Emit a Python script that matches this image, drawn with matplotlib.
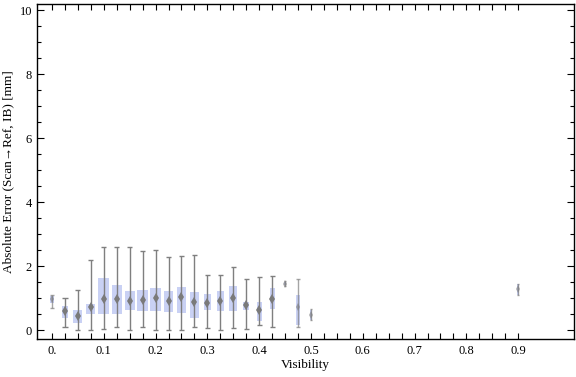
import numpy as np
import matplotlib
matplotlib.use("Agg")
import matplotlib.pyplot as plt
from matplotlib.ticker import MultipleLocator

# box-whisker summary per visibility bin
visibility = [0.0, 0.025, 0.05, 0.075, 0.1, 0.125, 0.15, 0.175, 0.2, 0.225, 0.25,
              0.275, 0.3, 0.325, 0.35, 0.375, 0.4, 0.425, 0.45, 0.475, 0.5, 0.9]
whisker_lo = [0.68, 0.08, 0.0, 0.0, 0.03, 0.08, 0.0, 0.08, 0.0, 0.0, 0.0,
              0.08, 0.05, 0.0, 0.05, 0.02, 0.15, 0.11, 1.37, 0.09, 0.30, 1.10]
q1 = [0.85, 0.39, 0.23, 0.51, 0.51, 0.51, 0.64, 0.60, 0.60, 0.57, 0.54,
      0.39, 0.64, 0.60, 0.60, 0.64, 0.29, 0.67, 1.40, 0.16, 0.31, 1.10]
median = [0.96, 0.58, 0.44, 0.72, 0.96, 0.96, 0.91, 0.94, 1.01, 0.92, 1.03,
          0.88, 0.85, 0.92, 0.99, 0.78, 0.62, 0.98, 1.45, 0.73, 0.47, 1.27]
q3 = [1.06, 0.75, 0.63, 0.81, 1.63, 1.41, 1.22, 1.25, 1.31, 1.22, 1.34,
      1.19, 1.13, 1.22, 1.37, 0.87, 0.87, 1.31, 1.50, 1.08, 0.63, 1.44]
whisker_hi = [1.11, 0.99, 1.24, 2.18, 2.58, 2.58, 2.58, 2.46, 2.49, 2.27, 2.30,
              2.33, 1.71, 1.71, 1.96, 1.58, 1.65, 1.68, 1.53, 1.61, 0.66, 1.44]
# relative box widths (fraction of bin spacing)
box_w = [0.25, 0.5, 0.7, 0.7, 0.85, 0.8, 0.8, 0.8, 0.8, 0.65, 0.65,
         0.65, 0.5, 0.5, 0.65, 0.5, 0.4, 0.4, 0.15, 0.25, 0.18, 0.18]

xticks = [0.0, 0.1, 0.2, 0.3, 0.4, 0.5, 0.6, 0.7, 0.8, 0.9]
xticklabels = ["0.", "0.1", "0.2", "0.3", "0.4", "0.5", "0.6", "0.7", "0.8", "0.9"]
yticks = [0, 2, 4, 6, 8, 10]

plt.rcParams['font.family'] = ['Liberation Serif', 'DejaVu Serif']

fig = plt.figure(figsize=(5.76, 3.77), dpi=100)
ax = fig.add_axes([0.0642, 0.1008, 0.9325, 0.8886])

box_col = '#c9d1f4'
wh_col = '#7f7f7f'
step = 0.025

for x, lo, a, m, b, hi, w in zip(visibility, whisker_lo, q1, median, q3, whisker_hi, box_w):
    bw = w * step
    cap = min(bw, 0.4 * step)
    faint = w < 0.3
    ax.bar(x, b - a, bottom=a, width=bw, color=box_col, edgecolor='none', zorder=2)
    ax.vlines(x, lo, hi, color=wh_col, lw=1.0, zorder=3, alpha=0.7 if faint else 1)
    ax.hlines([lo, hi], x - cap / 2, x + cap / 2, color=wh_col, lw=1.0, zorder=3,
              alpha=0.7 if faint else 1)
    ax.plot(x, m, marker='d', color='#7a7a7a', markersize=4 if faint else 5.5,
            markeredgewidth=0, zorder=4, alpha=0.6 if faint else 1)

ax.set_xlim(-0.029, 1.008)
ax.set_ylim(-0.28, 10.19)

ax.set_xticks(xticks)
ax.set_xticklabels(xticklabels)
ax.set_xticks(np.arange(0, 0.901, step), minor=True)
ax.set_yticks(yticks)
ax.yaxis.set_minor_locator(MultipleLocator(0.5))

ax.tick_params(which='both', direction='in', top=True, right=True, labelsize=9,
               width=0.8, color='black')
ax.tick_params(axis='x', which='both', length=4, pad=4)
ax.tick_params(axis='y', which='major', length=5)
ax.tick_params(axis='y', which='minor', length=3)
for s in ax.spines.values():
    s.set_linewidth(1.0)

ax.set_xlabel("Visibility", fontsize=9.5, labelpad=2)
ax.set_ylabel("Absolute Error (Scan\u2192Ref, IB) [mm]", fontsize=9.5, labelpad=4)

fig.savefig("out.png", dpi=100)
